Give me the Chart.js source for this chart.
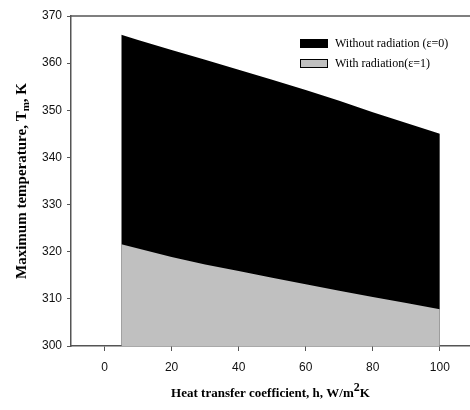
<!DOCTYPE html>
<html>
<head>
<meta charset="utf-8">
<script src="https://cdn.jsdelivr.net/npm/chart.js@4.4.1/dist/chart.umd.min.js"></script>
<style>
  html, body { margin: 0; padding: 0; background: #fff; }
  #wrap { width: 470px; height: 410px; position: relative; }
</style>
</head>
<body>
<div id="wrap"><canvas id="tempChart"></canvas></div>
<script>
// valores
const hValues = [5, 10, 20, 30, 40, 50, 60, 70, 80, 90, 100];
const withoutRadiation = [366.0, 364.9, 362.8, 360.7, 358.6, 356.5, 354.3, 352.0, 349.6, 347.3, 345.0];
const withRadiation = [321.6, 320.7, 318.9, 317.3, 315.9, 314.5, 313.1, 311.7, 310.4, 309.1, 307.8];
const seriesLabels = ['Without radiation (\u03b5=0)', 'With radiation(\u03b5=1)'];
const xTicks = [0, 20, 40, 60, 80, 100];
const yTicks = [300, 310, 320, 330, 340, 350, 360, 370];

const tickFont = { family: "'Liberation Sans', Arial, sans-serif", size: 12 };
const serif = "'Liberation Serif', 'Times New Roman', serif";
const axisColor = '#555';

// desenha texto com sub/sobrescrito, centrado em (0,0)
function drawRich(ctx, parts) {
    let total = 0;
    parts.forEach(p => {
        ctx.font = p.font;
        p.w = ctx.measureText(p.t).width;
        total += p.w;
    });
    let x = -total / 2;
    parts.forEach(p => {
        ctx.font = p.font;
        ctx.fillText(p.t, x, p.dy || 0);
        x += p.w;
    });
}

const extras = {
    id: 'extras',
    afterDraw(chart) {
        const ctx = chart.ctx;
        const a = chart.chartArea;
        ctx.save();

        // moldura superior
        ctx.strokeStyle = axisColor;
        ctx.lineWidth = 1.5;
        ctx.beginPath();
        ctx.moveTo(a.left, a.top);
        ctx.lineTo(a.right, a.top);
        ctx.stroke();

        // legenda
        const colors = ['#000000', '#c0c0c0'];
        ctx.textBaseline = 'middle';
        ctx.textAlign = 'left';
        ctx.font = '12px ' + serif;
        seriesLabels.forEach((lbl, i) => {
            const bx = a.right - 170, by = 39 + i * 20;
            ctx.fillStyle = colors[i];
            ctx.fillRect(bx, by, 28, 9);
            ctx.strokeStyle = '#000';
            ctx.lineWidth = 1;
            ctx.strokeRect(bx + 0.5, by + 0.5, 27, 8);
            ctx.fillStyle = '#000';
            ctx.fillText(lbl, bx + 35, by + 5);
        });

        // títulos dos eixos
        const bold = 'bold 13px ' + serif;
        ctx.fillStyle = '#000';
        ctx.textAlign = 'left';
        ctx.textBaseline = 'middle';

        ctx.save();
        ctx.translate((a.left + a.right) / 2, 394);
        drawRich(ctx, [
            { t: 'Heat transfer coefficient, h, W/m', font: bold },
            { t: '2', font: 'bold 12px ' + serif, dy: -6 },
            { t: 'K', font: bold }
        ]);
        ctx.restore();

        const boldY = 'bold 15px ' + serif;
        ctx.save();
        ctx.translate(22, (a.top + a.bottom) / 2);
        ctx.rotate(-Math.PI / 2);
        drawRich(ctx, [
            { t: 'Maximum temperature, T', font: boldY },
            { t: 'm', font: 'bold 11px ' + serif, dy: 4 },
            { t: ', K', font: boldY }
        ]);
        ctx.restore();

        ctx.restore();
    }
};

const ctx = document.getElementById('tempChart').getContext('2d');
new Chart(ctx, {
    type: 'line',
    data: {
        labels: hValues,
        datasets: [{
            label: seriesLabels[0],
            data: hValues.map((h, i) => ({ x: h, y: withoutRadiation[i] })),
            backgroundColor: '#000000',
            borderWidth: 0,
            pointRadius: 0,
            fill: 'start',
            order: 1
        }, {
            label: seriesLabels[1],
            data: hValues.map((h, i) => ({ x: h, y: withRadiation[i] })),
            backgroundColor: '#c0c0c0',
            borderWidth: 0,
            pointRadius: 0,
            fill: 'start',
            order: 0
        }]
    },
    options: {
        responsive: true,
        maintainAspectRatio: false,
        animation: false,
        layout: { padding: { top: 16, right: 0, left: 0, bottom: 0 } },
        plugins: {
            legend: { display: false },
            tooltip: { enabled: false }
        },
        scales: {
            x: {
                type: 'linear',
                min: -10,
                max: 109,
                afterBuildTicks: s => { s.ticks = xTicks.map(v => ({ value: v })); },
                afterFit: s => { s.height = 64; },
                grid: { drawOnChartArea: false, drawTicks: true, tickLength: 5, color: axisColor },
                border: { color: axisColor, width: 1.5 },
                ticks: { font: tickFont, color: '#111', padding: 9, maxRotation: 0 }
            },
            y: {
                min: 300,
                max: 370,
                afterBuildTicks: s => { s.ticks = yTicks.map(v => ({ value: v })); },
                afterFit: s => { s.width = 71; },
                grid: { drawOnChartArea: false, drawTicks: true, tickLength: 4, color: axisColor },
                border: { color: axisColor, width: 1.5 },
                ticks: { font: tickFont, color: '#111', padding: 5 }
            }
        }
    },
    plugins: [extras]
});
</script>
</body>
</html>
